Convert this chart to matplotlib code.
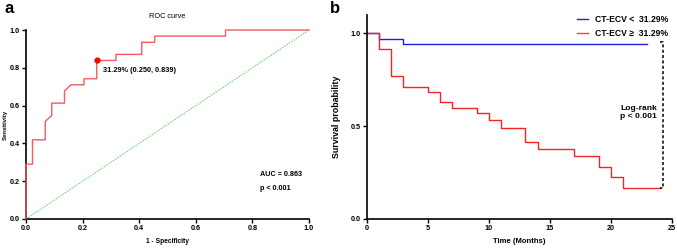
import matplotlib.pyplot as plt
from matplotlib.lines import Line2D

plt.rcParams['font.family'] = ['Liberation Sans', 'DejaVu Sans']

# ROC curve (panel a)
fpr = [0, 0, 0.023, 0.023, 0.068, 0.068, 0.091, 0.091, 0.136, 0.136, 0.159, 0.205, 0.205,
       0.250, 0.250, 0.318, 0.318, 0.409, 0.409, 0.455, 0.455, 0.705, 0.705, 1.0]
tpr = [0, 0.290, 0.290, 0.419, 0.419, 0.516, 0.548, 0.613, 0.613, 0.677, 0.710, 0.710, 0.742,
       0.742, 0.839, 0.839, 0.871, 0.871, 0.935, 0.935, 0.968, 0.968, 1.0, 1.0]
cut_point = (0.250, 0.839)
auc_text = "AUC = 0.863\n\np < 0.001"

# Kaplan-Meier (panel b)
t_low = [0, 1, 3, 23]
s_low = [1.0, 0.971, 0.943, 0.943]
t_high = [0, 1, 2, 3, 5, 6, 7, 9, 10, 11, 13, 14, 17, 19, 20, 21, 24]
s_high = [1.0, 0.914, 0.771, 0.714, 0.686, 0.629, 0.600, 0.571, 0.531, 0.491, 0.414,
          0.379, 0.338, 0.280, 0.224, 0.167, 0.167]

fig = plt.figure(figsize=(6.77, 2.48), dpi=100)

ax1 = fig.add_axes([0.0384, 0.117, 0.418, 0.762])
ax1.plot([0, 1], [0, 1], ls=(0, (1, 1.2)), color='#5fd35f', lw=0.9)
ax1.plot(fpr, tpr, color='#f25c5c', lw=1.0, clip_on=False, zorder=3)
ax1.plot(*cut_point, 'o', color='red', ms=3.5, clip_on=False, zorder=4)
ax1.text(0.273, 0.786, "31.29% (0.250, 0.839)", fontsize=5.3, fontweight='bold',
         va='center')
ax1.text(0.827, 0.20, auc_text, fontsize=5.2, fontweight='bold', va='center',
         linespacing=1.0)
ax1.set_xlim(0, 1)
ax1.set_ylim(0, 1)
ax1.set_xticks([0, 0.2, 0.4, 0.6, 0.8, 1.0])
ax1.set_yticks([0, 0.2, 0.4, 0.6, 0.8, 1.0])
ax1.set_xticklabels(['0.0', '0.2', '0.4', '0.6', '0.8', '1.0'])
ax1.set_yticklabels(['0.0', '0.2', '0.4', '0.6', '0.8', '1.0'])
ax1.set_title("ROC curve", fontsize=5.3, pad=9)
ax1.set_xlabel("1 - Specificity", fontsize=4.8, fontweight='bold', labelpad=4)
ax1.set_ylabel("Sensitivity", fontsize=4.3, fontweight='bold')
ax1.yaxis.set_label_coords(-0.066, 0.5)

ax2 = fig.add_axes([0.5417, 0.117, 0.4505, 0.823])
ax2.step(t_low, s_low, where='post', color='#1f1fe0', lw=1.0, clip_on=False)
ax2.step(t_high, s_high, where='post', color='#f02525', lw=1.0, clip_on=False)
ax2.plot([24.05, 24.3, 24.3, 24.05], [0.953, 0.953, 0.167, 0.167], color='black',
         ls=(0, (2, 1.5)), lw=1.1, clip_on=False)
ax2.text(23.8, 0.575, "Log-rank\np < 0.001", fontsize=6.1, fontweight='bold',
         ha='right', va='center', linespacing=1.3)
ax2.set_xlim(0, 25)
ax2.set_ylim(0, 1.1)
ax2.set_xticks([0, 5, 10, 15, 20, 25])
ax2.set_yticks([0, 0.5, 1.0])
ax2.set_yticklabels(['0.0', '0.5', '1.0'])
ax2.set_xlabel("Time (Months)", fontsize=5.5, fontweight='bold', labelpad=4)
ax2.set_ylabel("Survival probability", fontsize=6.4, fontweight='bold', labelpad=7)
handles = [Line2D([], [], color='#1f1fe0', lw=1.0), Line2D([], [], color='#f04545', lw=1.0)]
leg = ax2.legend(handles, ["CT-ECV <  31.29%", "CT-ECV \u2265  31.29%"], loc='upper right',
                 bbox_to_anchor=(1.0, 1.015), frameon=False, handlelength=1.3,
                 handletextpad=0.8, borderaxespad=0, labelspacing=0.6,
                 prop={'size': 6.2, 'weight': 'bold'})

for ax in (ax1, ax2):
    for s in ('top', 'right'):
        ax.spines[s].set_visible(False)
    for s in ('left', 'bottom'):
        ax.spines[s].set_linewidth(1.2)
    ax.tick_params(width=1.0, length=3, labelsize=5.2, pad=1.5)
    for lab in ax.get_xticklabels() + ax.get_yticklabels():
        lab.set_fontweight('bold')

fig.text(0.006, 0.965, "a", fontsize=12, fontweight='bold', va='center')
fig.text(0.487, 0.965, "b", fontsize=12, fontweight='bold', va='center')

fig.savefig("out.png", dpi=100)
